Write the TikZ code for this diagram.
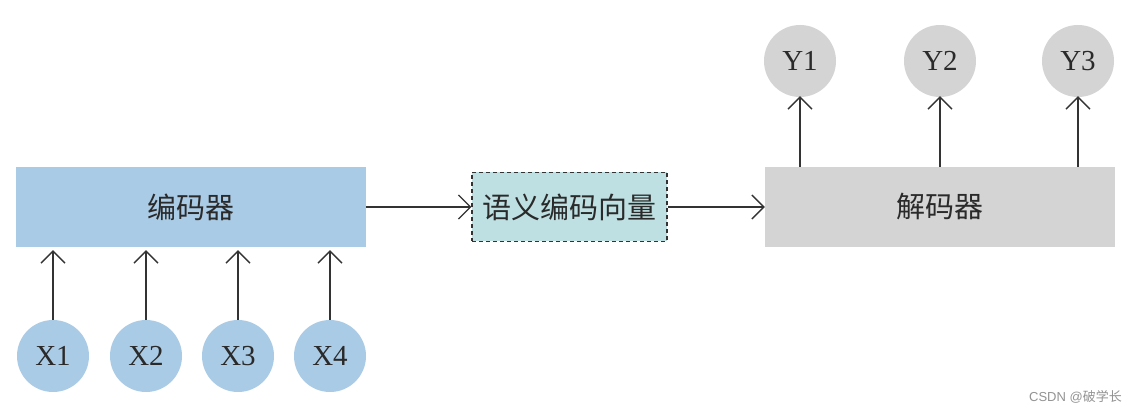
\documentclass[tikz,border=0pt]{standalone}
\usepackage{fontspec}
\setmainfont{Liberation Serif}
\newfontfamily\cjk{Noto Sans CJK SC}
\newfontfamily\wmsans{Liberation Sans}
\usetikzlibrary{arrows.meta}
\definecolor{encblue}{HTML}{AACBE5}
\definecolor{semteal}{HTML}{BEE0E2}
\definecolor{decgray}{HTML}{D4D4D4}
\definecolor{linec}{HTML}{333333}
\definecolor{txtc}{HTML}{2A2A2A}
\tikzset{
  bigbox/.style={draw=none, minimum width=350pt, minimum height=80pt, inner sep=0pt, text=txtc, font=\cjk\fontsize{29}{32}\selectfont},
  semvec/.style={draw=linec, dashed, dash pattern=on 4pt off 3pt, line width=1.3pt, fill=semteal, minimum width=195pt, minimum height=69pt, inner sep=0pt, text=txtc, font=\cjk\fontsize{29}{32}\selectfont},
  xcirc/.style={circle, fill=encblue, minimum size=72pt, inner sep=0pt, text=txtc, font=\fontsize{29}{31}\selectfont},
  ycirc/.style={circle, fill=decgray, minimum size=72pt, inner sep=0pt, text=txtc, font=\fontsize{29}{31}\selectfont},
  conn/.style={draw=linec, line width=1.3pt, -{Straight Barb[length=12pt,width=24pt,line width=1.3pt]}},
}
\begin{document}
\begin{tikzpicture}[x=1pt,y=-1pt]
\useasboundingbox[fill=white] (0,0) rectangle (1138,414);
% boxes
\node[bigbox, fill=encblue] (enc) at (191,207) {编码器};
\node[semvec] (sem) at (569.5,207) {语义编码向量};
\node[bigbox, fill=decgray] (dec) at (940,207) {解码器};
% inputs
\node[xcirc] (x1) at (53,356) {X1};
\node[xcirc] (x2) at (146,356) {X2};
\node[xcirc] (x3) at (238,356) {X3};
\node[xcirc] (x4) at (330,356) {X4};
% outputs
\node[ycirc] (y1) at (800,61) {Y1};
\node[ycirc] (y2) at (940,61) {Y2};
\node[ycirc] (y3) at (1078,61) {Y3};
% input arrows
\foreach \i in {1,2,3,4} {
  \draw[conn] (x\i.north) -- ([yshift=-3pt]enc.south -| x\i.north);
}
% output arrows
\foreach \i in {1,2,3} {
  \draw[conn] (dec.north -| y\i.south) -- ([yshift=1pt]y\i.south);
}
% horizontal arrows
\draw[conn] (enc.east) -- (sem.west);
\draw[conn] (sem.east) -- (dec.west);
% watermark
\node[text=gray!85, anchor=east, inner sep=0pt] (wm) at (1122,397) {\fontsize{13}{15}\selectfont\wmsans CSDN @\cjk 破学长};
\end{tikzpicture}
\end{document}
